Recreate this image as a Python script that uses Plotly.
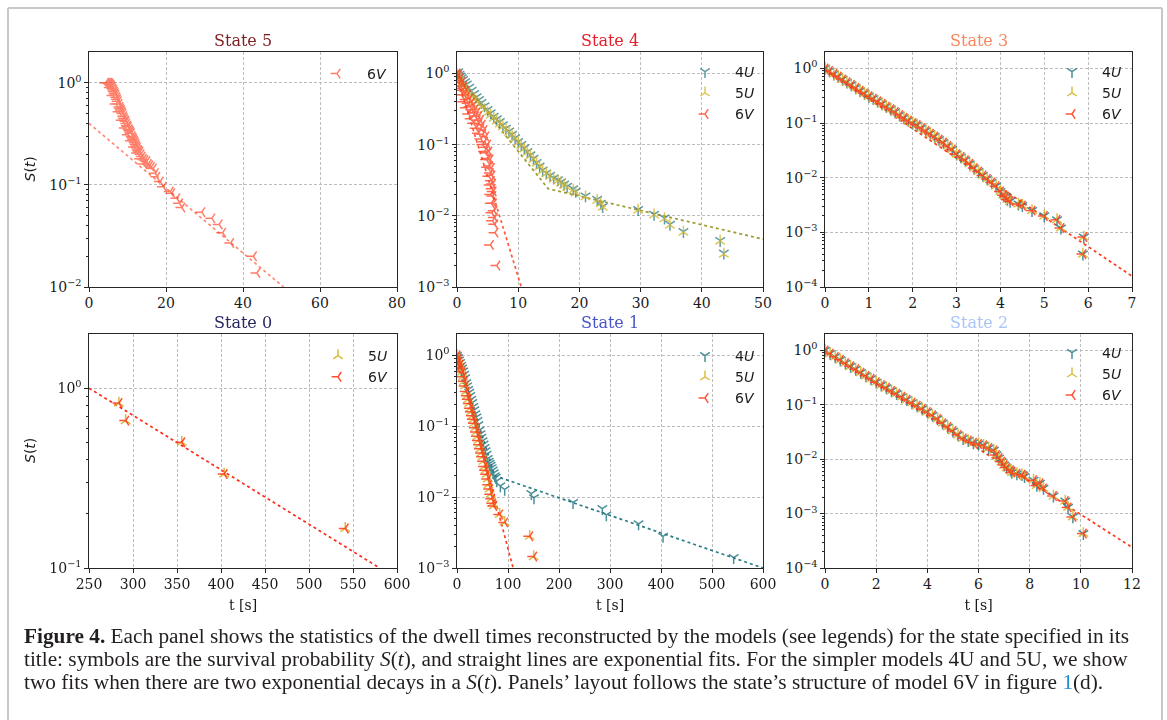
import math
import plotly.graph_objects as go

W, H = 1167, 720

# ---------------- State 5 (model 6V only) ----------------
s5_t_6v = [4.3, 4.7, 5.0, 5.2, 5.4, 5.6, 5.8, 6.0, 6.2, 6.4, 6.6, 6.8, 7.0, 7.2, 7.4,
           7.6, 7.8, 8.0, 8.2, 8.4, 8.6, 8.8, 9.0, 9.2, 9.4, 9.6, 9.8, 10.0, 10.2, 10.4,
           10.6, 10.8, 11.0, 11.2, 11.4, 11.6, 11.8, 12.0, 12.2, 12.4, 12.6, 12.8, 13.0,
           13.2, 13.5, 13.8, 14.1, 14.5, 15.0, 15.4, 15.8, 16.2,
           5.5, 6.2, 7.0, 7.8, 8.6, 9.4, 10.2, 11.0, 11.8, 12.6, 13.4, 14.2,
           16.7, 17.2, 17.6, 18.5, 19.3, 21.1, 21.5, 22.8, 23.5, 24.1, 29.3, 31.9,
           33.8, 34.7, 36.8, 42.7, 43.6]
s5_s_6v = [1.0, 1.0, 0.99, 1.0, 0.98, 0.96, 0.94, 0.91, 0.88, 0.85, 0.82, 0.79, 0.76, 0.72, 0.69,
           0.66, 0.62, 0.58, 0.56, 0.54, 0.52, 0.50, 0.47, 0.45, 0.43, 0.42, 0.40, 0.38, 0.37, 0.35,
           0.34, 0.33, 0.32, 0.30, 0.29, 0.28, 0.27, 0.26, 0.25, 0.24, 0.23, 0.22, 0.215,
           0.21, 0.20, 0.19, 0.18, 0.175, 0.17, 0.16, 0.155, 0.15,
           0.90, 0.75, 0.62, 0.52, 0.43, 0.36, 0.31, 0.27, 0.235, 0.205, 0.18, 0.16,
           0.145, 0.13, 0.12, 0.108, 0.096, 0.086, 0.083, 0.074, 0.066, 0.060, 0.054, 0.047,
           0.041, 0.034, 0.027, 0.020, 0.0137]
s5_fit_t = [0, 50.5]
s5_fit_s = [0.40, 0.01]

# ---------------- State 4 ----------------
s4_t_u = [0, 0.2, 0.4, 0.6, 0.8, 1.0, 1.3, 1.6, 2.0, 2.4, 2.8, 3.2, 3.6, 4.0, 4.5,
          5.0, 5.5, 6.0, 6.5, 7.0, 7.5, 8.0, 8.5, 9.0, 9.5, 10.0, 10.5, 11.0, 11.5, 12.0,
          12.5, 13.0, 13.5, 14.0, 14.6, 15.2, 15.8, 16.5, 17.0, 17.5, 18.0, 19.0, 19.4,
          21.0, 22.9, 23.5, 23.8, 29.6, 32.2, 33.9, 34.8, 37.0, 43.0, 43.6]
s4_s_4u = [1.0, 1.05, 0.97, 0.92, 0.87, 0.82, 0.76, 0.71, 0.64, 0.58, 0.52, 0.47, 0.43, 0.39, 0.35,
           0.31, 0.28, 0.25, 0.23, 0.21, 0.19, 0.17, 0.155, 0.14, 0.125, 0.11, 0.10, 0.09, 0.08, 0.072,
           0.064, 0.056, 0.050, 0.044, 0.040, 0.037, 0.034, 0.032, 0.030, 0.028, 0.026, 0.024, 0.022,
           0.019, 0.017, 0.015, 0.0135, 0.0122, 0.0105, 0.0093, 0.0076, 0.0060, 0.0045, 0.0030]
s4_s_5u = [0.95, 0.90, 0.84, 0.78, 0.73, 0.68, 0.62, 0.57, 0.52, 0.47, 0.43, 0.40, 0.37, 0.34, 0.31,
           0.28, 0.26, 0.235, 0.215, 0.195, 0.178, 0.162, 0.148, 0.135, 0.12, 0.107, 0.097, 0.087, 0.078, 0.070,
           0.062, 0.055, 0.049, 0.043, 0.039, 0.036, 0.033, 0.031, 0.029, 0.027, 0.025, 0.023, 0.021,
           0.0185, 0.0165, 0.0148, 0.0132, 0.0120, 0.0103, 0.0091, 0.0074, 0.0059, 0.0044, 0.0029]
s4_t_6v = [0, 0.2, 0.5, 0.8, 1.1, 1.4, 1.7, 2.0, 2.3, 2.6, 2.9, 3.2, 3.5, 3.8, 4.1, 4.4, 4.7,
           5.0, 5.2, 5.4, 5.6, 5.7, 5.8, 5.9,
           0, 0.3, 0.6, 0.9, 1.2, 1.5, 1.8, 2.1, 2.4, 2.7, 3.0, 3.3, 3.6, 3.9, 4.2, 4.5, 4.7,
           4.9, 5.1, 5.3, 5.45, 5.6, 5.75, 5.85, 5.95, 6.05, 6.1, 6.15, 6.2,
           0.3, 0.7, 1.1, 1.5, 1.9, 2.3, 2.7, 3.1, 3.5, 3.9, 4.2, 4.5, 4.8, 5.0, 5.2, 5.4,
           5.5, 5.6, 5.7, 5.8, 5.45, 6.5]
s4_s_6v = [1.0, 0.95, 0.86, 0.76, 0.66, 0.57, 0.50, 0.44, 0.39, 0.35, 0.31, 0.28, 0.25, 0.22, 0.19,
           0.16, 0.13, 0.10, 0.08, 0.062, 0.047, 0.037, 0.028, 0.022,
           0.85, 0.75, 0.66, 0.58, 0.50, 0.43, 0.38, 0.34, 0.31, 0.28, 0.25, 0.22, 0.20, 0.17, 0.14,
           0.11, 0.092, 0.077, 0.064, 0.050, 0.040, 0.031, 0.024, 0.019, 0.015, 0.0118, 0.0095,
           0.0076, 0.0058,
           0.62, 0.50, 0.40, 0.33, 0.27, 0.23, 0.20, 0.17, 0.145, 0.12, 0.10, 0.08, 0.062, 0.048,
           0.036, 0.027, 0.020, 0.015, 0.011, 0.0085, 0.0039, 0.0020]
s4_fit_u_t = [0, 14.9, 50]
s4_fit_u_s = [0.95, 0.024, 0.0047]
s4_fit_6v_t = [0, 10.5]
s4_fit_6v_s = [0.9, 0.001]

# ---------------- State 3 (4U, 5U and 6V coincide) ----------------
s3_t = [0.0, 0.1, 0.2, 0.3, 0.4, 0.5, 0.6, 0.7, 0.8, 0.9, 1.0, 1.1, 1.2, 1.3, 1.4, 1.5, 1.6,
        1.7, 1.8, 1.9, 2.0, 2.1, 2.2, 2.3, 2.4, 2.5, 2.6, 2.7, 2.8, 2.9, 3.0, 3.1, 3.2, 3.3,
        3.4, 3.5, 3.6, 3.7, 3.8, 3.9, 4.0, 4.07, 4.12, 4.16, 4.22, 4.41, 4.5, 4.72, 5.0,
        5.29, 5.38, 5.9, 5.88]
s3_s = [1.0, 0.90, 0.79, 0.71, 0.63, 0.56, 0.50, 0.44, 0.39, 0.35, 0.31, 0.28, 0.25, 0.225, 0.20,
        0.18, 0.16, 0.14, 0.125, 0.112, 0.100, 0.092, 0.081, 0.072, 0.064, 0.057, 0.050, 0.044,
        0.038, 0.033, 0.027, 0.024, 0.021, 0.018, 0.015, 0.013, 0.011, 0.0095, 0.0082, 0.0070,
        0.0056, 0.0048, 0.0045, 0.0040, 0.0037, 0.0033, 0.0031, 0.0025, 0.0020, 0.0017, 0.0012,
        0.00082, 0.00040]
s3_fit_t = [0, 7]
s3_fit_s = [0.95, 1.58e-4]

# ---------------- State 0 (5U and 6V coincide) ----------------
s0_t = [284, 291.7, 355.4, 403.6, 541.2]
s0_s = [0.826, 0.66, 0.50, 0.333, 0.166]
s0_fit_t = [250, 580.3]
s0_fit_s = [1.0, 0.1]

# ---------------- State 1 ----------------
s1_t_4u = [0, 2, 4, 6, 8, 10, 12, 14, 16, 18, 20, 22, 24, 26, 28, 30, 32, 34, 36, 38, 40,
           42, 44, 46, 48, 50, 52, 54, 56, 58, 60, 62, 64, 66, 68, 70, 72, 74, 76, 78,
           85, 93.5, 145.8, 151, 227.5, 285, 292.8, 356, 404, 542.5]
s1_s_4u = [1.0, 0.93, 0.86, 0.79, 0.72, 0.66, 0.60, 0.54, 0.48, 0.41, 0.37, 0.33, 0.30, 0.27,
           0.24, 0.215, 0.19, 0.17, 0.15, 0.135, 0.12, 0.105, 0.088, 0.078, 0.070, 0.062, 0.056,
           0.050, 0.045, 0.040, 0.035, 0.032, 0.030, 0.028, 0.026, 0.024, 0.022, 0.020, 0.019,
           0.017, 0.0144, 0.0129, 0.0112, 0.0098, 0.0084, 0.0069, 0.0056, 0.0042, 0.0028, 0.0014]
s1_t_5u6v = [0, 0.5, 1, 2, 4, 6, 8, 10, 12, 14, 16, 18, 20, 22, 24, 26, 28, 30, 32, 34, 36,
             38, 40, 42, 44, 46, 48, 50, 52, 54, 56, 58, 60, 62, 64, 66, 68, 70, 72,
             83.7, 93.5, 142.5, 150.3]
s1_s_5u6v = [1.0, 0.80, 0.65, 0.90, 0.82, 0.74, 0.66, 0.58, 0.50, 0.43, 0.37, 0.31, 0.27, 0.24,
             0.21, 0.18, 0.16, 0.14, 0.125, 0.11, 0.095, 0.083, 0.072, 0.063, 0.055, 0.048, 0.042,
             0.037, 0.032, 0.027, 0.024, 0.021, 0.018, 0.015, 0.013, 0.011, 0.0095, 0.0082, 0.0075,
             0.0057, 0.0044, 0.0028, 0.00145]
s1_fit_4u_t = [0, 74, 600]
s1_fit_4u_s = [1.0, 0.020, 0.001]
s1_fit_6v_t = [0, 110]
s1_fit_6v_s = [1.0, 0.001]

# ---------------- State 2 (4U, 5U and 6V coincide) ----------------
s2_t = [0.0, 0.2, 0.4, 0.6, 0.8, 1.0, 1.2, 1.4, 1.6, 1.8, 2.0, 2.2, 2.4, 2.6, 2.8, 3.0, 3.2,
        3.4, 3.6, 3.8, 4.0, 4.2, 4.4, 4.6, 4.8, 5.0, 5.2, 5.4, 5.6, 5.8, 6.0, 6.2, 6.4, 6.6,
        6.7, 6.8, 6.9, 7.0, 7.1, 7.25, 7.3, 7.5, 7.7, 7.8, 8.15, 8.28, 8.4, 8.54, 8.93, 9.39,
        9.5, 9.69, 10.1]
s2_s = [1.0, 0.87, 0.76, 0.67, 0.58, 0.51, 0.45, 0.39, 0.34, 0.30, 0.26, 0.23, 0.205, 0.18,
        0.16, 0.14, 0.124, 0.109, 0.096, 0.084, 0.074, 0.064, 0.055, 0.046, 0.039, 0.033, 0.028,
        0.024, 0.022, 0.020, 0.019, 0.018, 0.016, 0.0145, 0.012, 0.0105, 0.0090, 0.0078, 0.0070,
        0.0063, 0.0057, 0.0054, 0.0052, 0.0048, 0.0041, 0.0033, 0.0036, 0.0029, 0.0021, 0.0017,
        0.0013, 0.00087, 0.00043]
s2_fit_t = [0, 12]
s2_fit_s = [1.0, 2.4e-4]

# ---------------- styling ----------------
MODEL_COLOR = {"4U": "#2b7c86", "5U": "#d4b42a", "6V": "#ff3a1a"}
MODEL_SYMBOL = {"4U": "y-down", "5U": "y-up", "6V": "y-left"}
MODEL_LABEL = {"4U": "4<i>U</i>", "5U": "5<i>U</i>", "6V": "6<i>V</i>"}
GRID = "#bdbdbd"
GRID_DASH = "3px,2px"
AXC = "#262626"
SERIF = "DejaVu Serif"

panels = [
    dict(title="State 5", tcolor="#7d1f22", px=(89, 397), py=(52, 287), xr=[0, 80], xd=20,
         yr=[-2, 0.301], leg=(337, 73), ylab=True, xlab=False, alpha=0.65,
         series=[("6V", s5_t_6v, s5_s_6v)],
         fits=[("#ff8a72", s5_fit_t, s5_fit_s)]),
    dict(title="State 4", tcolor="#e3202b", px=(457, 763), py=(52, 287), xr=[0, 50], xd=10,
         yr=[-3, 0.301], leg=(705, 71), ylab=False, xlab=False, alpha=0.75,
         series=[("4U", s4_t_u, s4_s_4u), ("5U", s4_t_u, s4_s_5u), ("6V", s4_t_6v, s4_s_6v)],
         fits=[("#9a9a2e", s4_fit_u_t, s4_fit_u_s), ("#ff5a3c", s4_fit_6v_t, s4_fit_6v_s)]),
    dict(title="State 3", tcolor="#f7875f", px=(825, 1132), py=(52, 287), xr=[0, 7], xd=1,
         yr=[-4, 0.301], leg=(1072, 71), ylab=False, xlab=False, alpha=0.85,
         series=[("4U", s3_t, s3_s), ("5U", s3_t, s3_s), ("6V", s3_t, s3_s)],
         fits=[("#ff3a1a", s3_fit_t, s3_fit_s)]),
    dict(title="State 0", tcolor="#272763", px=(89, 397), py=(334, 568), xr=[250, 600], xd=50,
         yr=[-1, 0.301], leg=(338, 355), ylab=True, xlab=True, alpha=0.9,
         series=[("5U", s0_t, s0_s), ("6V", s0_t, s0_s)],
         fits=[("#ff2a1a", s0_fit_t, s0_fit_s)]),
    dict(title="State 1", tcolor="#4656c9", px=(457, 763), py=(334, 568), xr=[0, 600], xd=100,
         yr=[-3, 0.301], leg=(705, 355), ylab=False, xlab=True, alpha=0.85,
         series=[("4U", s1_t_4u, s1_s_4u), ("5U", s1_t_5u6v, s1_s_5u6v), ("6V", s1_t_5u6v, s1_s_5u6v)],
         fits=[("#2b7c86", s1_fit_4u_t, s1_fit_4u_s), ("#ff3a1a", s1_fit_6v_t, s1_fit_6v_s)]),
    dict(title="State 2", tcolor="#a9c5f7", px=(825, 1132), py=(334, 568), xr=[0, 12], xd=2,
         yr=[-4, 0.301], leg=(1072, 352), ylab=False, xlab=True, alpha=0.85,
         series=[("4U", s2_t, s2_s), ("5U", s2_t, s2_s), ("6V", s2_t, s2_s)],
         fits=[("#ff3a1a", s2_fit_t, s2_fit_s)]),
]


def fx(v):
    return v / W


def fy(v):
    return 1 - v / H


def sup_label(k):
    return "10<sup>%s</sup>" % ("0" if k == 0 else "\u2212%d" % (-k))


fig = go.Figure()
layout = dict(
    width=W, height=H, margin=dict(l=0, r=0, t=0, b=0, autoexpand=False),
    paper_bgcolor="white", plot_bgcolor="white",
    showlegend=True, annotations=[], shapes=[],
)

for i, p in enumerate(panels, start=1):
    sfx = "" if i == 1 else str(i)
    xid, yid = "x" + sfx, "y" + sfx
    leg = "legend" + sfx

    lo, hi = p["yr"]
    majors = list(range(math.ceil(lo), math.floor(hi) + 1))
    minors = [m * 10.0 ** k for k in range(math.floor(lo), math.ceil(hi))
              for m in range(2, 10) if lo <= math.log10(m * 10.0 ** k) <= hi]

    layout["xaxis" + sfx] = dict(
        domain=[fx(p["px"][0]), fx(p["px"][1])], anchor=yid, range=p["xr"], automargin=False,
        tick0=p["xr"][0], dtick=p["xd"], showgrid=True, gridcolor=GRID, griddash=GRID_DASH,
        gridwidth=0.8, zeroline=False, showline=True, linecolor=AXC, linewidth=1.2, mirror=True,
        ticks="outside", ticklen=3.5, tickcolor=AXC,
        tickfont=dict(family=SERIF, size=14, color="#1a1a1a"),
        title=dict(text="t [s]" if p["xlab"] else "", font=dict(family=SERIF, size=14, color="#1a1a1a"),
                   standoff=8),
    )
    layout["yaxis" + sfx] = dict(
        domain=[fy(p["py"][1]), fy(p["py"][0])], anchor=xid, type="log", range=[lo, hi],
        automargin=False,
        tickmode="array", tickvals=[10.0 ** k for k in majors], ticktext=[sup_label(k) for k in majors],
        showgrid=True, gridcolor=GRID, griddash=GRID_DASH, gridwidth=0.8, zeroline=False,
        showline=True, linecolor=AXC, linewidth=1.2, mirror=True,
        ticks="outside", ticklen=3.5, tickcolor=AXC,
        tickfont=dict(family=SERIF, size=14, color="#1a1a1a"),
        minor=dict(tickmode="array", tickvals=minors, ticks="outside", ticklen=2,
                   tickcolor=AXC, showgrid=False),
    )

    # exponential fits (dotted) underneath the survival symbols
    for color, ft, fs in p["fits"]:
        fig.add_trace(go.Scatter(
            x=ft, y=fs, mode="lines", xaxis=xid, yaxis=yid, showlegend=False,
            line=dict(color=color, width=1.7, dash="dot"), hoverinfo="skip"))

    for model, st, ss in p["series"]:
        fig.add_trace(go.Scatter(
            x=st, y=ss, mode="markers", xaxis=xid, yaxis=yid, name=MODEL_LABEL[model],
            legend=leg, opacity=p["alpha"],
            marker=dict(symbol=MODEL_SYMBOL[model], size=8, color=MODEL_COLOR[model],
                        line=dict(color=MODEL_COLOR[model], width=1.5))))

    gx, gy = p["leg"]
    layout[leg] = dict(
        x=fx(gx - 30), y=fy(gy - 15), xanchor="left", yanchor="top",
        bgcolor="rgba(0,0,0,0)", borderwidth=0, itemwidth=50, tracegroupgap=0,
        font=dict(family="DejaVu Sans", size=14, color="#1a1a1a"))

    cx = fx((p["px"][0] + p["px"][1]) / 2)
    layout["annotations"].append(dict(
        text=p["title"], x=cx, y=fy(p["py"][0] - 12), xref="paper", yref="paper",
        xanchor="center", yanchor="middle", showarrow=False,
        font=dict(family=SERIF, size=16, color=p["tcolor"])))
    if p["ylab"]:
        layout["annotations"].append(dict(
            text="<i>S</i>(<i>t</i>)", x=fx(30), y=fy((p["py"][0] + p["py"][1]) / 2),
            xref="paper", yref="paper", xanchor="center", yanchor="middle", showarrow=False,
            textangle=-90, font=dict(family="DejaVu Sans", size=14, color="#1a1a1a")))

# caption
caption = [
    "<b>Figure 4.</b> Each panel shows the statistics of the dwell times reconstructed by the models "
    "(see legends) for the state specified in its",
    "title: symbols are the survival probability <i>S</i>(<i>t</i>), and straight lines are exponential "
    "fits. For the simpler models 4U and 5U, we show",
    "two fits when there are two exponential decays in a <i>S</i>(<i>t</i>). Panels\u2019 layout follows "
    "the state\u2019s structure of model 6V in figure <span style='color:#1e8fd6'>1</span>(d).",
]
for j, line in enumerate(caption):
    layout["annotations"].append(dict(
        text=line, x=fx(22), y=fy(636 + 23 * j), xref="paper", yref="paper",
        xanchor="left", yanchor="middle", showarrow=False, align="left",
        font=dict(family="Liberation Serif", size=21.3, color="#231f20")))

# outer frame of the figure box
frame = dict(type="line", xref="paper", yref="paper", line=dict(color="#c8c8c8", width=2))
layout["shapes"] += [
    dict(frame, x0=fx(8), x1=fx(8), y0=0, y1=fy(8)),
    dict(frame, x0=fx(8), x1=fx(1162), y0=fy(8), y1=fy(8)),
    dict(frame, x0=fx(1162), x1=fx(1162), y0=0, y1=fy(8)),
]

fig.update_layout(**layout)
fig.write_html("out.html")
